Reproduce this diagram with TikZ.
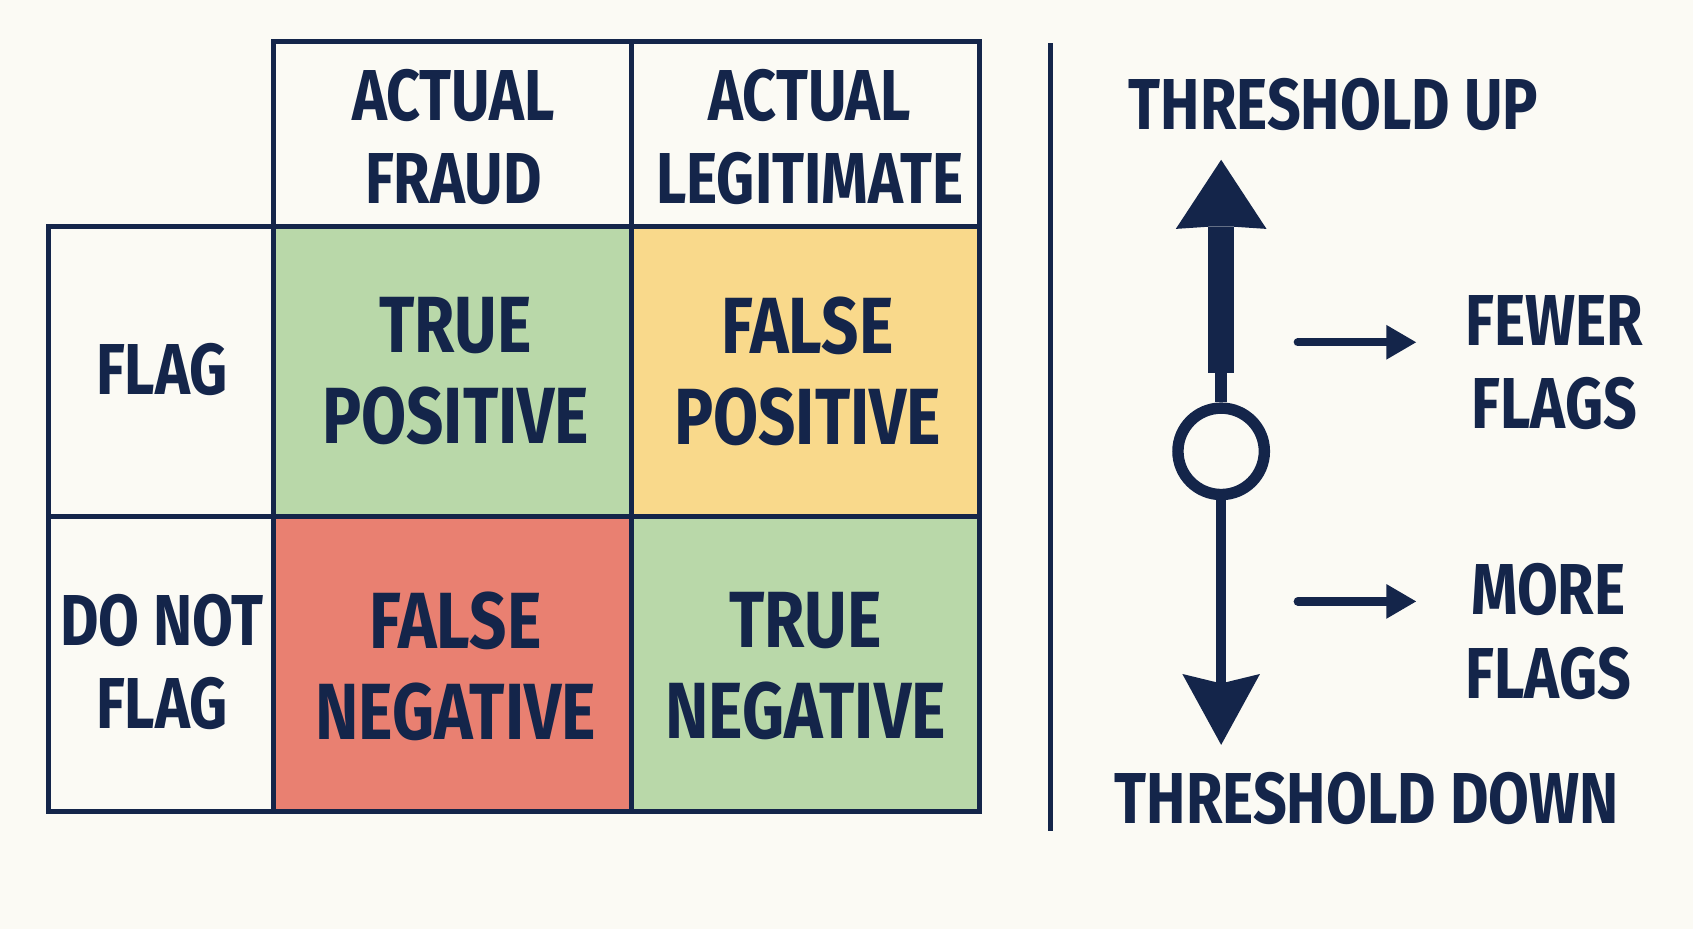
\documentclass[tikz,border=0pt]{standalone}
\usepackage{fontspec}
\setmainfont{Fira Sans}[FakeStretch=0.82]
\usetikzlibrary{arrows.meta}
\definecolor{navy}{HTML}{14254A}
\definecolor{bg}{HTML}{FBFAF4}
\definecolor{gr}{HTML}{B9D8A9}
\definecolor{ye}{HTML}{F9D98B}
\definecolor{re}{HTML}{E98071}
\begin{document}
\begin{tikzpicture}[x=0.01cm,y=-0.01cm,
  cell/.style={draw=navy,line width=1.3pt},
  lbl/.style={text=navy,font=\fontsize{19}{22}\selectfont\bfseries,align=center},
  big/.style={text=navy,font=\fontsize{21}{24}\selectfont\bfseries,align=center}]
\fill[bg] (0,0) rectangle (1568,860);
\useasboundingbox (0,0) rectangle (1568,860);
% cells
\fill[gr] (253,210) rectangle (585,478);
\fill[ye] (585,210) rectangle (907,478);
\fill[re] (253,478) rectangle (585,752);
\fill[gr] (585,478) rectangle (907,752);
\draw[cell] (253,38) rectangle (585,210);
\draw[cell] (585,38) rectangle (907,210);
\draw[cell] (45,210) rectangle (253,478);
\draw[cell] (45,478) rectangle (253,752);
\draw[cell] (253,210) rectangle (585,478);
\draw[cell] (585,210) rectangle (907,478);
\draw[cell] (253,478) rectangle (585,752);
\draw[cell] (585,478) rectangle (907,752);
\node[lbl] (h1) at (420,127) {ACTUAL\\FRAUD};
\node[lbl] (h2) at (750,127) {ACTUAL\\LEGITIMATE};
\node[lbl] (r1) at (150,342) {FLAG};
\node[lbl] (r2) at (150,613) {DO NOT\\FLAG};
\node[big] (tp) at (422,344) {TRUE\\POSITIVE};
\node[big] (fp) at (748,344) {FALSE\\POSITIVE};
\node[big] (fn) at (422,617) {FALSE\\NEGATIVE};
\node[big] (tn) at (746,617) {TRUE\\NEGATIVE};
% divider
\draw[navy,line width=1.3pt] (973,40) -- (973,770);
% threshold
\node[lbl,anchor=west] (tu) at (1033,97) {THRESHOLD UP};
\node[lbl,anchor=west] (td) at (1020,740) {THRESHOLD DOWN};
\node[circle,draw=navy,line width=3pt,minimum size=0.8cm,inner sep=0pt,fill=bg] (c) at (1131,418) {};
\coordinate (up) at (1131,148);
\coordinate (dn) at (1131,690);
\fill[navy] (1119,210) rectangle (1143,345);
\draw[navy,line width=3pt] (1131,345) -- (c.north);
\fill[navy] (up) -- (1173,212) -- (1143,210) -- (1119,210) -- (1089,212) -- cycle;
\draw[navy,line width=2.5pt,-{Stealth[length=0.65cm,width=0.7cm,inset=0.08cm]}] (c.south) -- (dn);
\node[lbl,anchor=west] (fe) at (1345,336) {FEWER\\FLAGS};
\node[lbl,anchor=west] (mo) at (1345,585) {MORE\\FLAGS};
\coordinate (a1) at (1202,317);
\coordinate (a2) at (1202,557);
\draw[navy,line width=2.2pt,line cap=round,-{Triangle[length=0.28cm,width=0.3cm]}] (a1) -- (1312,317);
\draw[navy,line width=2.2pt,line cap=round,-{Triangle[length=0.28cm,width=0.3cm]}] (a2) -- (1312,557);
\end{tikzpicture}
\end{document}
